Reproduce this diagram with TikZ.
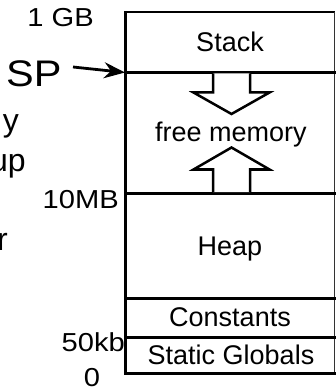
\documentclass[tikz,border=0pt]{standalone}
\usepackage{fontspec}
\setmainfont{Liberation Sans}
\newfontfamily\widesans[FakeStretch=1.12]{Liberation Sans}
\usetikzlibrary{arrows.meta}
\begin{document}
\begin{tikzpicture}[x=1pt,y=-1pt,
  seg/.style={font=\fontsize{27}{30}\selectfont, inner sep=0pt, anchor=base},
  addr/.style={font=\widesans\fontsize{26}{30}\selectfont, inner sep=0pt, anchor=base east},
  frag/.style={font=\fontsize{32}{36}\selectfont, inner sep=0pt, anchor=base east},
  divider/.style={line width=3pt},
  growarrow/.style={line width=2.5pt, line join=miter, fill=white}]
\useasboundingbox (0,0) rectangle (336,387);
\clip (0,0) rectangle (336,387);

% memory column
\draw[line width=2pt] (125.5,12) -- (334.5,12);
\draw[line width=1.3pt, black!80] (334.5,12) -- (334.5,373.5);
\draw[divider] (125.5,72.5) -- (336,72.5);
\draw[divider] (125.5,193) -- (336,193);
\draw[divider] (125.5,298) -- (336,298);
\draw[divider] (125.5,337) -- (336,337);
\draw[divider] (125.5,373.5) -- (336,373.5);
\draw[line width=3pt] (125.5,11) -- (125.5,375);

% growth arrows
\draw[growarrow] (213,73.5) -- (213,92.5) -- (193.5,92.5) -- (231.5,114) -- (269.5,92.5) -- (250,92.5) -- (250,73.5);
\draw[growarrow] (213,192) -- (213,169.5) -- (193.5,169.5) -- (231.5,147.5) -- (269.5,169.5) -- (250,169.5) -- (250,192);

% segment labels
\node[seg] (stack) at (230,52) {Stack};
\node[seg] (free) at (231,141.5) {free memory};
\node[seg] (heap) at (230,255) {Heap};
\node[seg] (const) at (230,326.5) {Constants};
\node[seg] (static) at (231,364) {Static Globals};

% address labels
\node[addr] (gb) at (94,26.7) {1 GB};
\node[addr] (mb) at (119,208) {10MB};
\node[addr] (kb) at (125,351) {50kb};
\node[font=\widesans\fontsize{26}{30}\selectfont, inner sep=0pt, anchor=base] (zero) at (92,386) {0};

% stack pointer
\node[font=\widesans\fontsize{37}{40}\selectfont, inner sep=0pt, anchor=base west] (sp) at (6,87) {SP};
\coordinate (spstart) at (73,67);
\coordinate (sptip) at (125,72.5);
\draw[line width=2.8pt, -{Stealth[length=21pt,width=16pt,inset=7pt]}] (spstart) -- (sptip);

% cropped text fragments at left edge
\node[frag] (fy) at (19,131.5) {y};
\node[frag] (fup) at (26,171.5) {up};
\node[frag] (fr) at (8,250.5) {r};
\end{tikzpicture}
\end{document}
